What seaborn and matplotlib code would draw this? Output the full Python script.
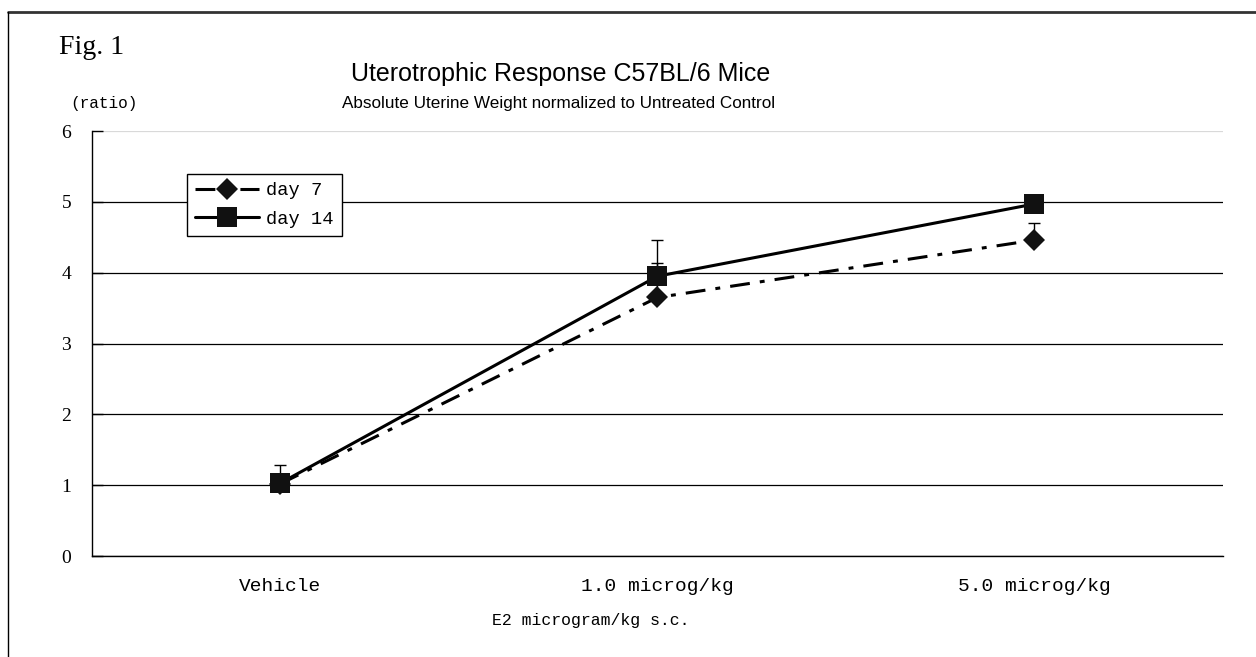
import pandas as pd
import seaborn as sns
import matplotlib.pyplot as plt
from matplotlib.lines import Line2D

# data
doses = ['Vehicle', '1.0 microg/kg', '5.0 microg/kg']
day7 = [1.02, 3.65, 4.46]
day7_err = [0.10, 0.48, 0.24]
day14 = [1.03, 3.95, 4.97]
day14_err = [0.26, 0.51, 0.10]

df = pd.DataFrame({
    'pos': [0, 1, 2] * 2,
    'ratio': day7 + day14,
    'group': ['day 7'] * 3 + ['day 14'] * 3,
})

sns.set_style('white')
plt.rcParams['font.family'] = ['Liberation Mono', 'DejaVu Sans Mono']
plt.rcParams['text.color'] = 'black'
plt.rcParams['xtick.color'] = 'black'
plt.rcParams['ytick.color'] = 'black'
plt.rcParams['axes.labelcolor'] = 'black'

fig = plt.figure(figsize=(12.56, 6.57), dpi=100)
ax = fig.add_axes([0.0732, 0.1537, 0.9005, 0.6469])

# error bars (plus side only, as in the original), behind the markers
ax.errorbar([0, 1, 2], day7, yerr=[[0, 0, 0], day7_err], fmt='none',
            ecolor='black', elinewidth=1, capsize=4.3, capthick=1, zorder=2)
ax.errorbar([0, 1, 2], day14, yerr=[[0, 0, 0], day14_err], fmt='none',
            ecolor='black', elinewidth=1, capsize=4.3, capthick=1, zorder=2)

sns.lineplot(
    data=df, x='pos', y='ratio',
    hue='group', style='group',
    hue_order=['day 7', 'day 14'], style_order=['day 7', 'day 14'],
    palette={'day 7': 'black', 'day 14': 'black'},
    markers={'day 7': 'D', 'day 14': 's'},
    dashes={'day 7': (6.5, 3.3, 1.6, 3.3), 'day 14': ''},
    linewidth=2.2, markersize=14, markeredgewidth=0,
    errorbar=None, legend=False, ax=ax, zorder=3,
)

lines = [l for l in ax.get_lines() if l.get_marker() in ('D', 's')]
for l in lines:
    l.set_markersize(11.3 if l.get_marker() == 'D' else 14.4)
    l.set_markerfacecolor('#111111')

ax.legend(handles=lines, labels=['day 7', 'day 14'],
          loc='upper left', bbox_to_anchor=(0.084, 0.899), borderaxespad=0,
          fontsize=13.5, handlelength=3.4, handletextpad=0.37,
          borderpad=0.45, labelspacing=0.6, frameon=True, fancybox=False,
          edgecolor='black', framealpha=1)
ax.get_legend().get_frame().set_linewidth(1)

ax.set_xlim(-0.5, 2.5)
ax.set_ylim(0, 6)
ax.set_xticks([0, 1, 2])
ax.set_xticklabels(doses, fontsize=14)
ax.set_xticks([0.5, 1.5, 2.5], minor=True)
ax.tick_params(axis='x', which='major', length=0, pad=16)
ax.tick_params(axis='x', which='minor', length=8, width=1, direction='in', color='black')
ax.set_yticks(range(7))
ax.tick_params(axis='y', direction='in', length=8, width=1, pad=15, color='black',
               left=True)
for t in ax.get_yticklabels():
    t.set_family(['Liberation Serif'])
    t.set_fontsize(14)
ax.set_xlabel('')
ax.set_ylabel('')

ax.grid(axis='y', color='black', linewidth=0.9)
ax.yaxis.get_gridlines()[-1].set_color('#d9d9d9')
ax.set_axisbelow(True)
for s in ['top', 'right']:
    ax.spines[s].set_visible(False)
for s in ['left', 'bottom']:
    ax.spines[s].set_color('black')
    ax.spines[s].set_linewidth(1)

# texts around the plot
fig.text(0.047, 0.928, 'Fig. 1', fontsize=20, family=['Liberation Serif'], va='center')
fig.text(0.446, 0.888, 'Uterotrophic Response C57BL/6 Mice', fontsize=18,
         family=['Liberation Sans Narrow', 'Liberation Sans'], ha='center', va='center')
fig.text(0.445, 0.843, 'Absolute Uterine Weight normalized to Untreated Control', fontsize=12.3,
         family=['Liberation Sans Narrow', 'Liberation Sans'], ha='center', va='center')
fig.text(0.0557, 0.842, '(ratio)', fontsize=11.6, va='center')
fig.text(0.4705, 0.0548, 'E2 microgram/kg s.c.', fontsize=11.9, ha='center', va='center')

# outer frame pieces
fig.add_artist(Line2D([8 / 1256, 1], [1 - 12 / 657] * 2, transform=fig.transFigure,
                      color='#333333', linewidth=2))
fig.add_artist(Line2D([8 / 1256] * 2, [0, 1 - 12 / 657], transform=fig.transFigure,
                      color='black', linewidth=1))

fig.savefig('out.png', dpi=100)
